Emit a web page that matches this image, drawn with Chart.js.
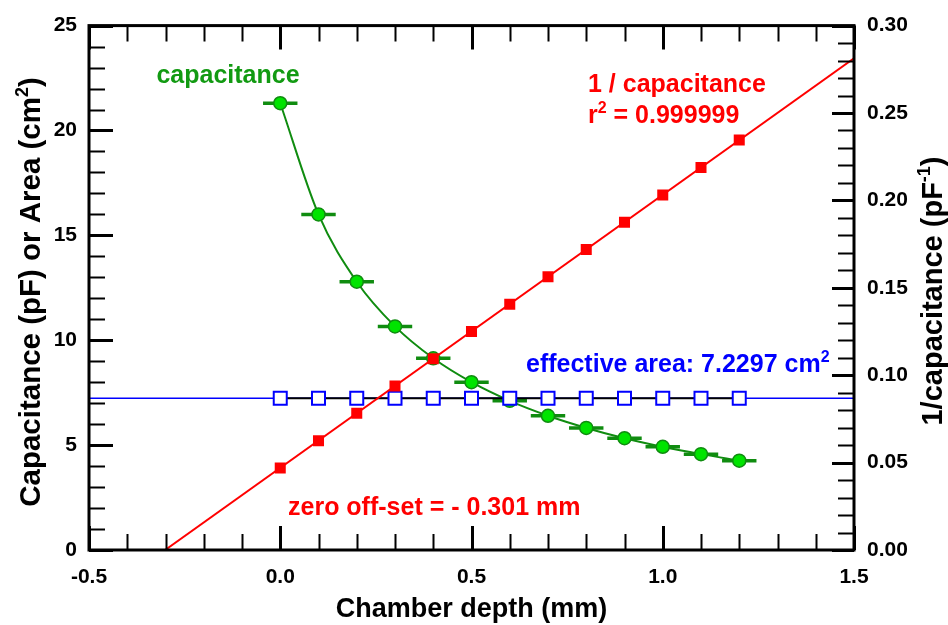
<!DOCTYPE html>
<html>
<head>
<meta charset="utf-8">
<script src="https://cdn.jsdelivr.net/npm/chart.js@4/dist/chart.umd.min.js"></script>
<style>
  html, body { margin: 0; padding: 0; background: #ffffff; }
  #wrap { width: 948px; height: 625px; }
</style>
</head>
<body>
<div id="wrap"><canvas id="chart" width="948" height="625"></canvas></div>
<script>
// Chamber depth (mm) for each measurement
const depth = [0.0, 0.1, 0.2, 0.3, 0.4, 0.5, 0.6, 0.7, 0.8, 0.9, 1.0, 1.1, 1.2];
// Measured capacitance (pF)
const capacitance = [21.30, 16.00, 12.79, 10.66, 9.14, 8.00, 7.11, 6.40, 5.82, 5.33, 4.92, 4.57, 4.26];
// Half-width of the depth uncertainty bars (mm)
const depthError = [0.045, 0.045, 0.045, 0.045, 0.045, 0.045, 0.045, 0.045, 0.045, 0.045, 0.045, 0.045, 0.045];
// Inverse capacitance (1/pF)
const inverseCapacitance = [0.0469, 0.0625, 0.0782, 0.0938, 0.1094, 0.1250, 0.1406, 0.1563, 0.1719, 0.1875, 0.2031, 0.2188, 0.2346];
// Effective area derived at each depth (cm^2)
const effectiveArea = [7.2297, 7.2297, 7.2297, 7.2297, 7.2297, 7.2297, 7.2297, 7.2297, 7.2297, 7.2297, 7.2297, 7.2297, 7.2297];
const meanArea = 7.2297;
// Linear fit of 1/C versus depth
const fitSlope = 0.1562;      // 1/pF per mm
const zeroOffset = -0.301;    // mm, where the fit crosses zero
// Axis ranges and tick steps
const xRange = [-0.5, 1.5];
const xMajorStep = 0.5, xMinorStep = 0.1;
const yLeftRange = [0, 25];
const yLeftMajorStep = 5, yLeftMinorStep = 1;
const yRightRange = [0, 0.30];
const yRightMajorStep = 0.05, yRightMinorStep = 0.01;

const FONT = '"Liberation Sans", Arial, Helvetica, sans-serif';
const GREEN_LINE = '#108c10';
const GREEN_FILL = '#00e400';
const GREEN_TEXT = '#129a12';
const RED = '#ff0000';
const BLUE = '#0000ff';

const pts = (xs, ys) => xs.map((x, i) => ({ x: x, y: ys[i] }));

// Draw a string made of normal and superscript parts
function drawRich(ctx, parts, x, y, size, color, align) {
  const supSize = Math.round(size * 0.62);
  let total = 0;
  parts.forEach(p => {
    ctx.font = 'bold ' + (p.sup ? supSize : size) + 'px ' + FONT;
    p.w = ctx.measureText(p.t).width;
    total += p.w;
  });
  let cx = align === 'center' ? x - total / 2 : x;
  ctx.fillStyle = color;
  ctx.textAlign = 'left';
  ctx.textBaseline = 'alphabetic';
  parts.forEach(p => {
    ctx.font = 'bold ' + (p.sup ? supSize : size) + 'px ' + FONT;
    ctx.fillText(p.t, cx, p.sup ? y - size * 0.42 : y);
    cx += p.w;
  });
}

// Depth error bars drawn beneath the markers
const errorBars = {
  id: 'errorBars',
  beforeDatasetsDraw(chart) {
    const { ctx, scales } = chart;
    ctx.save();
    ctx.strokeStyle = GREEN_LINE;
    ctx.lineWidth = 3.5;
    ctx.lineCap = 'butt';
    depth.forEach((d, i) => {
      const y = scales.y.getPixelForValue(capacitance[i]);
      ctx.beginPath();
      ctx.moveTo(scales.x.getPixelForValue(d - depthError[i]), y);
      ctx.lineTo(scales.x.getPixelForValue(d + depthError[i]), y);
      ctx.stroke();
    });
    ctx.restore();
  }
};

// Frame, inward tick marks, axis titles and annotations
const frameAndText = {
  id: 'frameAndText',
  afterDraw(chart) {
    const { ctx, chartArea: a, scales } = chart;
    const near = (v, s) => Math.abs(v / s - Math.round(v / s)) < 1e-6;
    ctx.save();
    ctx.strokeStyle = '#000';
    ctx.lineCap = 'butt';

    // x ticks, bottom and top
    for (let v = xRange[0]; v <= xRange[1] + 1e-9; v += xMinorStep) {
      const px = Math.round(scales.x.getPixelForValue(v)) + 0.5;
      const major = near(v - xRange[0], xMajorStep);
      const len = major ? 24 : 16;
      ctx.lineWidth = major ? 3 : 2;
      ctx.beginPath();
      ctx.moveTo(px, a.bottom); ctx.lineTo(px, a.bottom - len);
      ctx.moveTo(px, a.top); ctx.lineTo(px, a.top + len);
      ctx.stroke();
    }
    // left y ticks
    for (let v = yLeftRange[0]; v <= yLeftRange[1] + 1e-9; v += yLeftMinorStep) {
      const py = Math.round(scales.y.getPixelForValue(v)) + 0.5;
      const major = near(v, yLeftMajorStep);
      ctx.lineWidth = major ? 3 : 2;
      ctx.beginPath();
      ctx.moveTo(a.left, py); ctx.lineTo(a.left + (major ? 24 : 16), py);
      ctx.stroke();
    }
    // right y ticks
    for (let v = yRightRange[0]; v <= yRightRange[1] + 1e-9; v += yRightMinorStep) {
      const py = Math.round(scales.y1.getPixelForValue(v)) + 0.5;
      const major = near(v, yRightMajorStep);
      ctx.lineWidth = major ? 3 : 2;
      ctx.beginPath();
      ctx.moveTo(a.right, py); ctx.lineTo(a.right - (major ? 22 : 16), py);
      ctx.stroke();
    }
    // frame
    ctx.lineWidth = 3;
    ctx.strokeRect(a.left, a.top, a.right - a.left, a.bottom - a.top);

    // axis titles
    ctx.font = 'bold 27px ' + FONT;
    ctx.fillStyle = '#000';
    ctx.textAlign = 'center';
    ctx.textBaseline = 'alphabetic';
    ctx.fillText('Chamber depth (mm)', (a.left + a.right) / 2, 617);

    ctx.save();
    ctx.translate(40, 292);
    ctx.rotate(-Math.PI / 2);
    drawRich(ctx, [{ t: 'Capacitance (pF) or Area (cm' }, { t: '2', sup: true }, { t: ')' }], 0, 0, 29.5, '#000', 'center');
    ctx.restore();

    ctx.save();
    ctx.translate(942, 291);
    ctx.rotate(-Math.PI / 2);
    drawRich(ctx, [{ t: '1/capacitance (pF' }, { t: '-1', sup: true }, { t: ')' }], 0, 0, 29, '#000', 'center');
    ctx.restore();

    // annotations
    drawRich(ctx, [{ t: 'capacitance' }], 228, 83, 25, GREEN_TEXT, 'center');
    drawRich(ctx, [{ t: '1 / capacitance' }], 588, 92, 25, RED, 'left');
    drawRich(ctx, [{ t: 'r' }, { t: '2', sup: true }, { t: ' = 0.999999' }], 588, 123, 25, RED, 'left');
    drawRich(ctx, [{ t: 'zero off-set = - 0.301 mm' }], 288, 515, 25, RED, 'left');
    drawRich(ctx, [{ t: 'effective area: 7.2297 cm' }, { t: '2', sup: true }], 526, 372, 25, BLUE, 'left');
    ctx.restore();
  }
};

const tickFont = { family: FONT, size: 21, weight: 'bold' };

new Chart(document.getElementById('chart'), {
  type: 'scatter',
  data: {
    datasets: [
      {
        label: '1/C',
        yAxisID: 'y1',
        data: pts(depth, inverseCapacitance),
        showLine: false,
        pointStyle: 'rect',
        pointRadius: 7.8,
        pointBackgroundColor: RED,
        pointBorderColor: RED,
        pointBorderWidth: 0,
        order: 1
      },
      {
        label: '1/C fit',
        yAxisID: 'y1',
        data: [
          { x: zeroOffset, y: 0 },
          { x: xRange[1], y: fitSlope * (xRange[1] - zeroOffset) }
        ],
        showLine: true,
        borderColor: RED,
        borderWidth: 2,
        pointRadius: 0,
        order: 2
      },
      {
        label: 'area',
        yAxisID: 'y',
        data: pts(depth, effectiveArea),
        showLine: true,
        borderColor: '#000000',
        borderWidth: 2,
        pointStyle: 'rect',
        pointRadius: 9.2,
        pointBackgroundColor: '#ffffff',
        pointBorderColor: BLUE,
        pointBorderWidth: 2,
        order: 3
      },
      {
        label: 'mean area',
        yAxisID: 'y',
        data: [{ x: xRange[0], y: meanArea }, { x: xRange[1], y: meanArea }],
        showLine: true,
        borderColor: BLUE,
        borderWidth: 1.5,
        pointRadius: 0,
        order: 4
      },
      {
        label: 'capacitance',
        yAxisID: 'y',
        data: pts(depth, capacitance),
        showLine: true,
        cubicInterpolationMode: 'monotone',
        borderColor: GREEN_LINE,
        borderWidth: 2,
        pointStyle: 'circle',
        pointRadius: 6.5,
        pointBackgroundColor: GREEN_FILL,
        pointBorderColor: GREEN_LINE,
        pointBorderWidth: 1.5,
        order: 5
      }
    ]
  },
  options: {
    responsive: false,
    animation: false,
    devicePixelRatio: 1,
    layout: { padding: { top: 23, left: 0, right: 0, bottom: 0 } },
    plugins: { legend: { display: false }, tooltip: { enabled: false } },
    scales: {
      x: {
        type: 'linear',
        position: 'bottom',
        min: xRange[0], max: xRange[1],
        grid: { display: false, drawTicks: false },
        border: { display: false },
        ticks: {
          stepSize: xMajorStep,
          padding: 15,
          color: '#000',
          font: tickFont,
          maxRotation: 0,
          callback: v => Number(v).toFixed(1)
        },
        afterFit: s => { s.height = 75; }
      },
      y: {
        type: 'linear',
        position: 'left',
        min: yLeftRange[0], max: yLeftRange[1],
        grid: { display: false, drawTicks: false },
        border: { display: false },
        ticks: {
          stepSize: yLeftMajorStep,
          padding: 12,
          color: '#000',
          font: tickFont,
          callback: v => String(v)
        },
        afterFit: s => { s.width = 89; }
      },
      y1: {
        type: 'linear',
        position: 'right',
        min: yRightRange[0], max: yRightRange[1],
        grid: { display: false, drawTicks: false },
        border: { display: false },
        ticks: {
          stepSize: yRightMajorStep,
          padding: 13,
          color: '#000',
          font: tickFont,
          callback: v => Number(v).toFixed(2)
        },
        afterFit: s => { s.width = 94; }
      }
    }
  },
  plugins: [errorBars, frameAndText]
});
</script>
</body>
</html>
